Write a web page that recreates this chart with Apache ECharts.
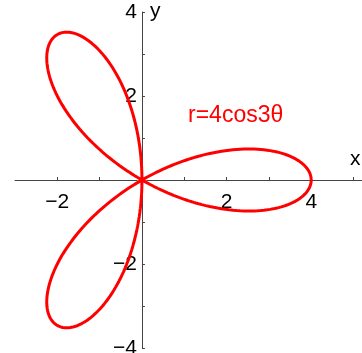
<!DOCTYPE html>
<html>
<head>
<meta charset="utf-8">
<style>
  html, body { margin: 0; padding: 0; background: #fff; }
  #chart { width: 362px; height: 353px; }
</style>
<script src="https://cdn.jsdelivr.net/npm/echarts@6/dist/echarts.min.js"></script>
</head>
<body>
<div id="chart"></div>
<script>
// Rose curve r = a·cos(kθ), traced once over θ ∈ [0, π]
const roseAmplitude = 4;
const rosePetalFactor = 3;
const thetaSteps = 720;

// Axis extents and labelled ticks
const xRange = [-3, 5.2];
const yRange = [-4, 4];
const xTickLabels = [-2, 2, 4];
const yTickLabels = [-4, -2, 2, 4];
const curveLabel = 'r=4cos3θ';

const rosePoints = [];
for (let i = 0; i <= thetaSteps; i++) {
  const t = Math.PI * i / thetaSteps;
  const r = roseAmplitude * Math.cos(rosePetalFactor * t);
  rosePoints.push([r * Math.cos(t), r * Math.sin(t)]);
}

const minus = v => (v < 0 ? '\u2212' + Math.abs(v) : String(v));
const axisColor = '#444';
const font = 'Liberation Sans, Arial, sans-serif';

const chart = echarts.init(document.getElementById('chart'));
chart.setOption({
  animation: false,
  backgroundColor: '#fff',
  grid: { left: 15, right: 0, top: 12, bottom: 5, containLabel: false, outerBoundsMode: 'none' },
  xAxis: {
    type: 'value', min: xRange[0], max: xRange[1], interval: 1, position: 'bottom',
    splitLine: { show: false },
    axisLine: { onZero: false, lineStyle: { color: axisColor, width: 1 } },
    axisTick: { inside: true, length: 3, lineStyle: { color: axisColor } },
    axisLabel: {
      margin: 12, color: '#000', fontSize: 21, fontFamily: font,
      showMaxLabel: false, showMinLabel: false,
      formatter: v => (xTickLabels.includes(v) ? minus(v) : '')
    }
  },
  yAxis: {
    type: 'value', min: yRange[0], max: yRange[1], interval: 1, position: 'left',
    splitLine: { show: false },
    axisLine: { onZero: false, lineStyle: { color: axisColor, width: 1 } },
    axisTick: { inside: true, length: 3, lineStyle: { color: axisColor } },
    axisLabel: {
      margin: 5, color: '#000', fontSize: 21, fontFamily: font,
      padding: [10, 0, 0, 0],
      formatter: v => (yTickLabels.includes(v) ? minus(v) : '')
    }
  },
  series: [
    {
      type: 'line', data: rosePoints, showSymbol: false, smooth: false,
      lineStyle: { color: '#ff0000', width: 3 }, z: 3
    },
    {
      type: 'scatter', data: [[0, 0]], symbol: 'emptyCircle', symbolSize: 9,
      itemStyle: { color: 'transparent', borderColor: '#333', borderWidth: 1 }, z: 2
    }
  ],
  graphic: [
    { type: 'text', left: 188, top: 104,
      style: { text: curveLabel, fill: '#ff0000', font: '23px ' + font } },
    { type: 'text', left: 350, top: 149,
      style: { text: 'x', fill: '#000', font: '21px ' + font } },
    { type: 'text', left: 150, top: 1,
      style: { text: 'y', fill: '#000', font: '21px ' + font } }
  ]
});

// Move both axes (line, ticks and labels) so they cross at the origin
const origin = chart.convertToPixel({ gridIndex: 0 }, [0, 0]);
const corner = chart.convertToPixel({ gridIndex: 0 }, [xRange[0], yRange[0]]);
chart.setOption({
  xAxis: { offset: -(corner[1] - origin[1]) },
  yAxis: { offset: -(origin[0] - corner[0]) }
});
</script>
</body>
</html>
